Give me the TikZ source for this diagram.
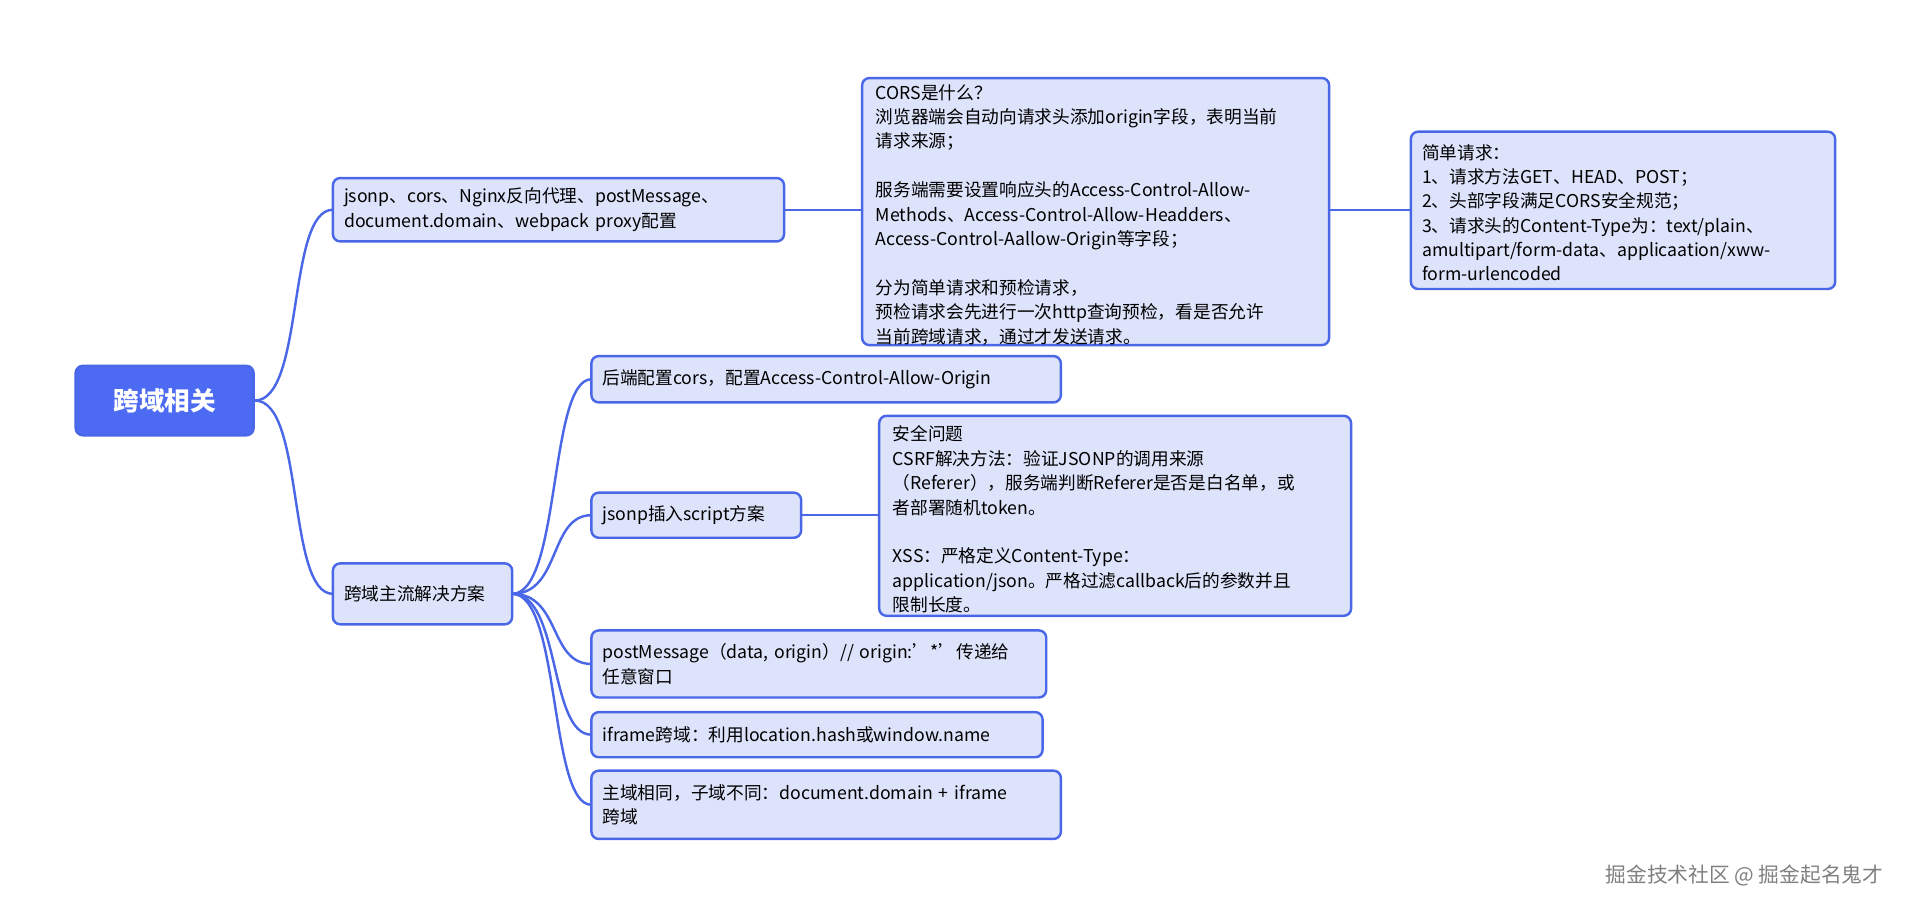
\documentclass[tikz,border=0pt]{standalone}
\usepackage{fontspec}
\setmainfont{Noto Sans CJK SC}
\begin{document}
\begin{tikzpicture}[x=1pt,y=-1pt,
  frame/.style={draw=edge,line width=2pt,fill=fillc,rounded corners=6pt},
  txt/.style={inner sep=0pt,font=\fontsize{14.5}{20}\selectfont,align=left,text width=#1},
  con/.style={draw=edge,line width=2pt}]
\definecolor{edge}{HTML}{4A67E8}
\definecolor{fillc}{HTML}{DDE3FB}
\definecolor{rootc}{HTML}{4D6BF2}
\useasboundingbox (0,0) rectangle (1568,750);
\fill[white] (0,0) rectangle (1568,750);
\node[draw=edge,fill=rootc,line width=2pt,rounded corners=6pt,minimum width=146pt,minimum height=57pt,text=white,font=\fontsize{21}{24}\selectfont\bfseries] (root) at (135,328.5) {跨域相关};
\draw[frame] (273,146) rectangle (643,198); \node[txt=360pt,anchor=west] (a) at (282,172) {jsonp、cors、Nginx反向代理、postMessage、\\document.domain、webpack proxy配置};
\coordinate (aL) at (273,172); \coordinate (aR) at (643,172);
\draw[frame] (273,462) rectangle (420,512); \node[txt=140pt,anchor=west] (b) at (282,487) {跨域主流解决方案};
\coordinate (bL) at (273,487); \coordinate (bR) at (420,487);
\draw[frame] (707,64) rectangle (1090,283);
\node[txt=370pt,anchor=north west] (cors) at (718,69) {CORS是什么？\\浏览器端会自动向请求头添加origin字段，表明当前\\请求来源；\\[20pt]服务端需要设置响应头的Access-Control-Allow-\\Methods、Access-Control-Allow-Headders、\\Access-Control-Aallow-Origin等字段；\\[20pt]分为简单请求和预检请求，\\预检请求会先进行一次http查询预检，看是否允许\\当前跨域请求，通过才发送请求。};
\coordinate (corsL) at (707,172); \coordinate (corsR) at (1090,172);
\draw[frame] (1157,108) rectangle (1505,237);
\node[txt=340pt,anchor=north west] (simple) at (1166,118) {简单请求：\\1、请求方法GET、HEAD、POST；\\2、头部字段满足CORS安全规范；\\3、请求头的Content-Type为：text/plain、\\amultipart/form-data、applicaation/xww-\\form-urlencoded};
\coordinate (simpleL) at (1157,172);
\draw[frame] (485,292) rectangle (870,330); \node[txt=380pt,anchor=west] (c1) at (494,311) {后端配置cors，配置Access-Control-Allow-Origin};
\coordinate (c1L) at (485,311);
\draw[frame] (485,404) rectangle (657,441); \node[txt=170pt,anchor=west] (c2) at (494,422.5) {jsonp插入script方案};
\coordinate (c2L) at (485,422.5); \coordinate (c2R) at (657,422.5);
\draw[frame] (721,341) rectangle (1108,505);
\node[txt=380pt,anchor=north west] (sec) at (732,349) {安全问题\\CSRF解决方法：验证JSONP的调用来源\\（Referer），服务端判断Referer是否是白名单，或\\者部署随机token。\\[20pt]XSS：严格定义Content-Type：\\application/json。严格过滤callback后的参数并且\\限制长度。};
\coordinate (secL) at (721,422.5);
\draw[frame] (485,517) rectangle (858,572); \node[txt=370pt,anchor=west] (c3) at (494,544.5) {postMessage（data, origin）// origin:{\char"27}*{\char"27}传递给\\任意窗口};
\coordinate (c3L) at (485,544.5);
\draw[frame] (485,584) rectangle (855,621); \node[txt=370pt,anchor=west] (c4) at (494,602.5) {iframe跨域：利用location.hash或window.name};
\coordinate (c4L) at (485,602.5);
\draw[frame] (485,632) rectangle (870,688); \node[txt=380pt,anchor=west] (c5) at (494,660) {主域相同，子域不同：document.domain + iframe\\跨域};
\coordinate (c5L) at (485,660);
\draw[con] (root.east) .. controls (250,328) and (235,172) .. (aL);
\draw[con] (root.east) .. controls (250,328) and (235,487) .. (bL);
\draw[con] (aR) -- (corsL);
\draw[con] (corsR) -- (simpleL);
\draw[con] (c2R) -- (secL);
\foreach \t in {c1L,c2L,c3L,c4L,c5L}
  \draw[con] (bR) .. controls (460,487) and (450,0|-\t) .. (\t);
\node[text=gray,font=\fontsize{17}{20}\selectfont,anchor=east] (wm) at (1548,718) {掘金技术社区 @ 掘金起名鬼才};
\end{tikzpicture}
\end{document}
